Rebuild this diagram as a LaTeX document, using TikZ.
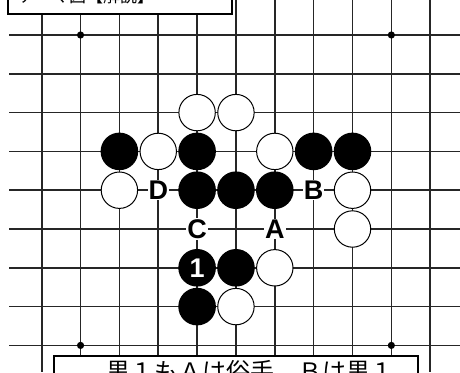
\documentclass[tikz,border=0pt]{standalone}
\usepackage{fontspec}
\setsansfont{Liberation Sans}
\newfontfamily\jpfont{Noto Sans CJK JP}
\tikzset{
  gridline/.style={line width=1.6pt, black!85},
  bstone/.style={fill=black},
  wstone/.style={draw=black, fill=white, line width=1pt},
  ptlabel/.style={fill=white, inner sep=1pt, font=\sffamily\bfseries\fontsize{27}{27}\selectfont},
  notebox/.style={draw=black, fill=white, line width=2pt}
}
\begin{document}
\begin{tikzpicture}[x=1pt,y=-1pt]
 \useasboundingbox (0,0) rectangle (460,372);
 \clip (0,0) rectangle (460,372);
 \fill[white] (0,0) rectangle (460,372);
 % board points
 \foreach \i in {0,...,10}
   \foreach \j in {0,...,8}
     \coordinate (p\i-\j) at ({41.7+38.85*\i},{35+38.8*\j});
 % grid
 \foreach \j in {0,...,8}
   \draw[gridline] (9,{35+38.8*\j}) -- (460,{35+38.8*\j});
 \foreach \i in {0,...,10}
   \draw[gridline] ({41.7+38.85*\i},0) -- ({41.7+38.85*\i},372);
 \foreach \p in {p1-0,p9-0,p1-8,p9-8}
   \fill (\p) circle[radius=3.6pt];
 % stones
 \foreach \p in {p2-3,p4-3,p7-3,p8-3,p4-4,p5-4,p6-4,p4-6,p5-6,p4-7}
   \fill[bstone] (\p) circle[radius=18.8pt];
 \foreach \p in {p4-2,p5-2,p3-3,p6-3,p2-4,p8-4,p8-5,p6-6,p5-7}
   \path[wstone] (\p) circle[radius=18.2pt];
 % letters
 \node[ptlabel] (lD) at (p3-4) {D};
 \node[ptlabel] (lB) at (p7-4) {B};
 \node[ptlabel] (lC) at (p4-5) {C};
 \node[ptlabel] (lA) at (p6-5) {A};
 \node[font=\sffamily\bfseries\fontsize{27}{27}\selectfont, text=white] (n1) at (p4-6) {1};
 % captions
 \path[notebox] (8,-20) rectangle (232,13.5);
 \node[anchor=base west, inner sep=0pt, font=\jpfont\fontsize{17}{17}\selectfont] (title) at (18,2) {テーマ図【解説】};
 \path[notebox] (54,356) rectangle (418,400);
 \node[anchor=north, inner sep=0pt, font=\jpfont\fontsize{24}{24}\selectfont] (note) at (250,360) {黒１もＡは俗手、Ｂは黒１};
\end{tikzpicture}
\end{document}
